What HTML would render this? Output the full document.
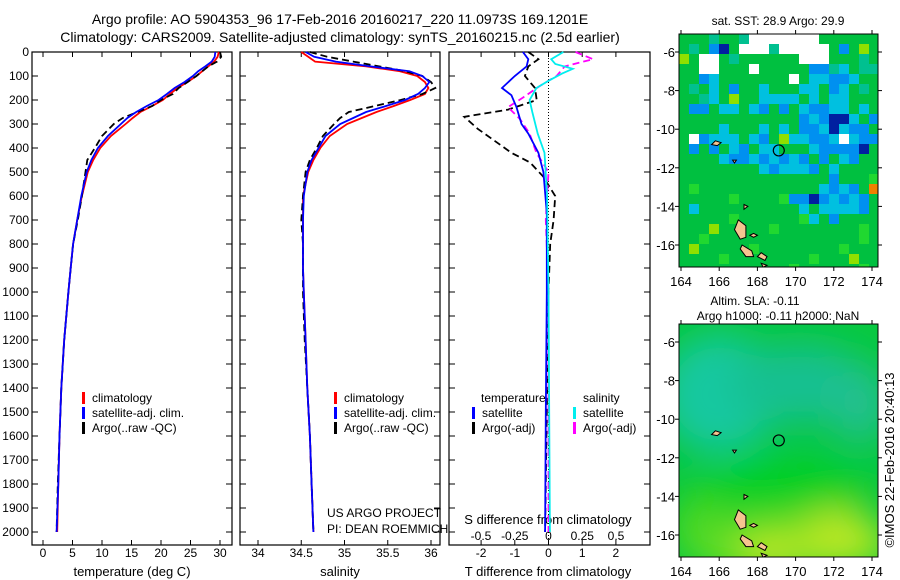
<!DOCTYPE html>
<html><head><meta charset="utf-8"><style>
html,body{margin:0;padding:0;background:#fff;}
svg{display:block;font-family:"Liberation Sans",sans-serif;}
text{fill:#000;}
</style></head><body>
<svg id="fig" width="900" height="580" viewBox="0 0 900 580" xmlns="http://www.w3.org/2000/svg">
<rect width="900" height="580" fill="#fff"/>
<text x="340" y="24" font-size="14" text-anchor="middle">Argo profile: AO 5904353_96 17-Feb-2016 20160217_220 11.0973S 169.1201E</text>
<text x="340" y="42" font-size="14" text-anchor="middle">Climatology: CARS2009. Satellite-adjusted climatology: synTS_20160215.nc (2.5d earlier)</text>
<g id="plots"></g>
<g id="maps"></g>
<text transform="translate(894,460) rotate(-90)" font-size="13" text-anchor="middle">©IMOS 22-Feb-2016 20:40:13</text>
</svg>
<script>
// ---------- data ----------
const depthTicks=[0,100,200,300,400,500,600,700,800,900,1000,1100,1200,1300,1400,1500,1600,1700,1800,1900,2000];
const tempTicks=[0,5,10,15,20,25,30];
const salTicks=[34,34.5,35,35.5,36];
const salTickLabels=["34","34.5","35","35.5","36"];
const tdTicks=[-2,-1,0,1,2];
const sdTicks=[-0.5,-0.25,0,0.25,0.5];
const sdTickLabels=["-0.5","-0.25","0","0.25","0.5"];

const zT=[0,20,40,60,80,100,125,150,175,200,225,250,275,300,350,400,450,500,600,700,800,900,1000,1200,1400,1600,1800,2000];
const tClim=[29.8,29.6,29,28,27,26,24.5,22.8,21.5,20.3,18.5,16.5,15.2,14,11.5,9.7,8.5,7.6,6.6,5.8,5.1,4.7,4.3,3.6,3.1,2.8,2.6,2.4];
const tSat=[29.2,29.1,28.6,27.5,26.3,25.4,24,22.3,21,19.6,17.6,15.8,14.3,13.2,11,9.3,8.2,7.4,6.5,5.8,5.1,4.7,4.3,3.6,3.1,2.8,2.6,2.3];
const tArgo=[30,30.2,29.5,28,27,26,24.5,23,22,20,18.5,16,13.5,12,10,8.8,7.5,7.2,6.6,5.9,5.1,4.7,4.3,3.6,3.1,2.8,2.5,2.3];
const sClim=[34.5,34.58,34.66,35.25,35.64,35.84,35.93,35.97,35.93,35.76,35.57,35.37,35.2,35.03,34.83,34.72,34.64,34.58,34.52,34.52,34.52,34.52,34.53,34.55,34.57,34.6,34.62,34.64];
const sSat=[34.55,34.65,34.9,35.3,35.75,35.9,35.98,35.93,35.85,35.7,35.48,35.25,35.1,34.95,34.78,34.7,34.62,34.57,34.53,34.52,34.52,34.52,34.53,34.55,34.57,34.6,34.62,34.64];
const sArgo=[34.6,34.8,35.1,35.4,35.7,35.9,36,36.05,35.9,35.65,35.35,35.05,34.95,34.88,34.75,34.68,34.6,34.55,34.52,34.5,34.52,34.52,34.52,34.54,34.57,34.6,34.62,34.64];

const zTd=[0,30,60,100,150,180,230,300,340,420,500,670,1000,1500,2000];
const tdSat=[-0.76,-0.6,-0.65,-1.0,-1.38,-1.1,-0.95,-0.8,-0.6,-0.3,-0.15,-0.05,-0.05,-0.08,-0.1];
const zTa=[0,30,60,100,150,200,240,270,320,370,420,460,520,600,700,800,1000,1500,2000];
const tdArgo=[-0.6,-0.3,-0.6,-0.7,-0.4,-0.35,-1.2,-2.5,-2.1,-1.6,-1.1,-0.55,-0.15,0.2,0.15,0.05,0,-0.05,-0.1];
const zSd=[0,30,50,70,90,120,150,200,250,340,420,600,1000,2000];
const sdSat=[0.11,0.02,0.05,0.18,0.1,0,-0.09,-0.14,-0.12,-0.08,-0.03,-0.01,0,0.01];
const zSa=[0,30,60,100,140,190,230,280,340,420,500,700,1000,2000];
const sdArgo=[0.2,0.33,0.12,0.06,-0.06,-0.19,-0.3,-0.21,-0.14,-0.09,0,-0.02,0,0];

const lonTicks=[164,166,168,170,172,174];
const latTicks=[-6,-8,-10,-12,-14,-16];
const argoLon=169.12, argoLat=-11.1;
const sstRows=[
"gggtggtwwwwwwwgggggg","gtgbdgwwwtwwwwwgbgyg","ygwwgtggggggwwwgggtg","ggwwgggwgggggbbtcgtt",
"ggbcgggggggwgccbbcgg","gtgcgbggcgggccgbcgtg","ggtcgyggccccgcgccggg","gbbgccgcbgbgcbbccgcg",
"ggggggggggggbcbddcgb","ggggcgggcgcgbbcdcbbg","gwbcccgcbgyccbbcwcbb","gbgbgcbgccgggcbbbbdg",
"ggggcbbcbcbcbgbgcbgg","ggggggggcbcccbgcgggg","gggggggggggggggbgggG","gGggggggggggggcbcbgo",
"gggggGggggGbbdbcbcbg","gcggggggggggcgccccbg","gggggGggggggGcgbgggg","gggygggggGggggggggGg",
"ggGgggggggggggggggGg","gygggggGggggggggGggg","ggggGggggggggGgggygg","gggggggggggGggggggGg"];
const sstColors={g:"#00c040",G:"#20d830",t:"#00c090",c:"#00c0e0",b:"#0090f0",d:"#0020a0",w:"#ffffff",y:"#90e000",o:"#f08000"};

// ---------- helpers ----------
const NS="http://www.w3.org/2000/svg";
function mk(tag,attrs,parent){const e=document.createElementNS(NS,tag);for(const k in attrs)e.setAttribute(k,attrs[k]);parent.appendChild(e);return e;}
const plots=document.getElementById('plots');
const yD=d=>52+d*0.24;
const xTemp=t=>43+t*5.9;
const xSal=s=>258+(s-34)*86.5;
const xTd=v=>548.5+v*33.7;
const xSd=v=>548.5+v*135;

function line(xs,zs,xf,color,w,dash,name){
  let d=xs.map((v,i)=>(i?'L':'M')+xf(v).toFixed(1)+','+yD(zs[i]).toFixed(1)).join('');
  const p=mk('path',{d:d,fill:'none',stroke:color,'stroke-width':w},plots);
  if(dash)p.setAttribute('stroke-dasharray',dash);
  
  
}
function frame(x0,x1,name){
  const r=mk('rect',{x:x0,y:52,width:x1-x0,height:493,fill:'none',stroke:'#000','stroke-width':1.2},plots);
  
  
}
function xticks(vals,labels,xf,y,name){
  vals.forEach((v,i)=>{
    const x=xf(v);
    mk('line',{x1:x,y1:52,x2:x,y2:57,stroke:'#000'},plots);
    mk('line',{x1:x,y1:545,x2:x,y2:540,stroke:'#000'},plots);
    const t=mk('text',{x:x,y:y,'font-size':12,'text-anchor':'middle'},plots);
    t.textContent=labels[i];
    
    
  });
}
function text(x,y,s,name,anchor,size){
  const t=mk('text',{x:x,y:y,'font-size':size||12,'text-anchor':anchor||'start'},plots);
  t.textContent=s;
  
  
}
function legMark(x,y,color,name){
  const r=mk('rect',{x:x,y:y-10,width:3,height:12,fill:color},plots);
  
  
}

frame(32,232,'temperature-panel');frame(240,440,'salinity-panel');frame(449,650,'difference-panel');
depthTicks.forEach(d=>{
  const y=yD(d);
  [[32,38],[232,226],[240,246],[440,434],[449,455],[650,644]].forEach(a=>mk('line',{x1:a[0],y1:y,x2:a[1],y2:y,stroke:'#000'},plots));
  const t=mk('text',{x:29,y:y+4,'font-size':12,'text-anchor':'end'},plots);
  t.textContent=d;
  
  
});
xticks(tempTicks,tempTicks.map(String),xTemp,557,'temperature-tick-label');
xticks(salTicks,salTickLabels,xSal,557,'salinity-tick-label');
xticks(tdTicks,tdTicks.map(String),xTd,557,'t-diff-tick-label');
sdTicks.forEach((v,i)=>{text(xSd(v),540,sdTickLabels[i],'s-diff-tick-label','middle');});
text(132,576,'temperature (deg C)','x-axis-title-temperature','middle',13);
text(340,576,'salinity','x-axis-title-salinity','middle',13);
text(548,576,'T difference from climatology','x-axis-title-t-diff','middle',13);
text(548,524,'S difference from climatology','s-diff-axis-title','middle',13);
mk('line',{x1:548.5,y1:52,x2:548.5,y2:545,stroke:'#000','stroke-dasharray':'1,2'},plots);

line(tClim,zT,xTemp,'#f00',1.8,null,'temp-climatology-line');
line(tArgo,zT,xTemp,'#000',1.8,'7,4','temp-argo-line');
line(tSat,zT,xTemp,'#00f',1.8,null,'temp-satellite-line');
line(sClim,zT,xSal,'#f00',1.8,null,'sal-climatology-line');
line(sArgo,zT,xSal,'#000',1.8,'7,4','sal-argo-line');
line(sSat,zT,xSal,'#00f',1.8,null,'sal-satellite-line');
line(tdArgo,zTa,xTd,'#000',1.8,'7,4','t-diff-argo-line');
line(sdArgo,zSa,xSd,'#f0f',1.8,'7,4','s-diff-argo-line');
line(tdSat,zTd,xTd,'#00f',1.8,null,'t-diff-satellite-line');
line(sdSat,zSd,xSd,'#0ee',1.8,null,'s-diff-satellite-line');

[[40,'temperature'],[292,'salinity']].forEach(p=>{
  const x=p[0]+42;
  legMark(x,402,'#f00','legend-climatology-mark');text(x+10,402,'climatology','legend-climatology','start',12);
  legMark(x,417,'#00f','legend-satellite-mark');text(x+10,417,'satellite-adj. clim.','legend-satellite','start',12);
  legMark(x,432,'#000','legend-argo-mark');text(x+10,432,'Argo(..raw -QC)','legend-argo','start',12);
});
text(481,402,'temperature','legend-temperature-heading');
text(583,402,'salinity','legend-salinity-heading');
legMark(472,417,'#00f','legend-t-satellite-mark');text(482,417,'satellite','legend-t-satellite');
legMark(472,432,'#000','legend-t-argo-mark');text(482,432,'Argo(-adj)','legend-t-argo');
legMark(573,417,'#0ee','legend-s-satellite-mark');text(583,417,'satellite','legend-s-satellite');
legMark(573,432,'#f0f','legend-s-argo-mark');text(583,432,'Argo(-adj)','legend-s-argo');
text(327,517,'US ARGO PROJECT','project-credit','start',12);
text(327,533,'PI: DEAN ROEMMICH','pi-credit','start',12);

const maps=document.getElementById('maps');
const mx=lon=>681+(lon-164)*19.1;
function drawMap(top,kind){
  const g=mk('g',{},maps);
  
  
  const my=lat=>top+18+(-6-lat)*19.3;
  const x0=679,x1=878,y0=top,y1=top+233;
  const cid='clip'+kind;
  const cp=mk('clipPath',{id:cid},g);mk('rect',{x:x0,y:y0,width:x1-x0,height:y1-y0},cp);
  const inner=mk('g',{'clip-path':'url(#'+cid+')'},g);
  if(kind==='sst'){
    sstRows.forEach((row,r)=>{for(let c=0;c<row.length;c++){
      mk('rect',{x:x0+c*10,y:y0+r*10,width:10.5,height:10.5,fill:sstColors[row[c]]},inner);
    }});
  }else{
    const defs=mk('defs',{},g);
    const f=mk('filter',{id:'blurSla',x:'-50%',y:'-50%',width:'200%',height:'200%'},defs);
    mk('feGaussianBlur',{stdDeviation:18},f);
    mk('rect',{x:x0,y:y0,width:199,height:233,fill:'#08c840'},inner);
    const bl=mk('g',{filter:'url(#blurSla)'},inner);
    mk('ellipse',{cx:720,cy:y0+70,rx:60,ry:60,fill:'#18c8a0'},bl);
    mk('ellipse',{cx:800,cy:y0+60,rx:70,ry:40,fill:'#18c090'},bl);
    mk('ellipse',{cx:860,cy:y0+80,rx:30,ry:40,fill:'#20c090'},bl);
    mk('ellipse',{cx:780,cy:y0+165,rx:90,ry:25,fill:'#00d020'},bl);
    mk('ellipse',{cx:790,cy:y0+222,rx:110,ry:30,fill:'#70e020'},bl);
    mk('ellipse',{cx:840,cy:y0+212,rx:40,ry:26,fill:'#c0e820'},bl);
    mk('ellipse',{cx:770,cy:y0+230,rx:30,ry:16,fill:'#d0e820'},bl);
    mk('ellipse',{cx:700,cy:y0+200,rx:30,ry:25,fill:'#50d820'},bl);
  }
  const isl=[[[167.0,-14.7],[167.4,-15.0],[167.4,-15.6],[167.1,-15.7],[166.8,-15.2]],
             [[167.2,-16.0],[167.7,-16.3],[167.8,-16.6],[167.4,-16.6],[167.1,-16.2]],
             [[168.2,-16.4],[168.5,-16.6],[168.4,-16.8],[168.0,-16.6]],
             [[167.8,-15.4],[168.0,-15.5],[167.8,-15.6],[167.6,-15.5]],
             [[165.8,-10.6],[166.1,-10.7],[165.9,-10.85],[165.6,-10.8]],
             [[167.3,-13.9],[167.5,-14.0],[167.3,-14.15]],
             [[166.7,-11.6],[166.9,-11.6],[166.8,-11.75]],
             [[168.2,-16.95],[168.5,-17.05],[168.3,-17.15]]];
  isl.forEach(p=>{
    const pg=mk('polygon',{points:p.map(q=>mx(q[0]).toFixed(1)+','+my(q[1]).toFixed(1)).join(' '),fill:'#f5c490',stroke:'#000','stroke-width':1},inner);
    
    
  });
  const c=mk('circle',{cx:mx(argoLon),cy:my(argoLat),r:5.5,fill:'none',stroke:'#000','stroke-width':1.2},g);
  
  
  mk('rect',{x:x0,y:y0,width:x1-x0,height:y1-y0,fill:'none',stroke:'#000','stroke-width':1},g);
  lonTicks.forEach(l=>{
    const x=mx(l);
    mk('line',{x1:x,y1:y0,x2:x,y2:y0-4,stroke:'#000'},g);
    mk('line',{x1:x,y1:y1,x2:x,y2:y1+4,stroke:'#000'},g);
    const t=mk('text',{x:x,y:y1+19,'font-size':13,'text-anchor':'middle'},g);
    t.textContent=l;
    
    
  });
  latTicks.forEach(l=>{
    const y=my(l);
    mk('line',{x1:x0,y1:y,x2:x0-4,y2:y,stroke:'#000'},g);
    mk('line',{x1:x1,y1:y,x2:x1+4,y2:y,stroke:'#000'},g);
    const t=mk('text',{x:x0-4,y:y+5,'font-size':13,'text-anchor':'end'},g);
    t.textContent=l;
    
    
  });
}
drawMap(34,'sst');
drawMap(324,'sla');
function mtext(x,y,s,name){const t=mk('text',{x:x,y:y,'font-size':12,'text-anchor':'middle'},maps);t.textContent=s;}
mtext(778,25,'sat. SST: 28.9 Argo: 29.9','sst-map-title');
mtext(755,305,'Altim. SLA: -0.11','sla-map-title');
mtext(778,320,'Argo h1000: -0.11 h2000: NaN','sla-map-subtitle');
</script>
</body></html>
